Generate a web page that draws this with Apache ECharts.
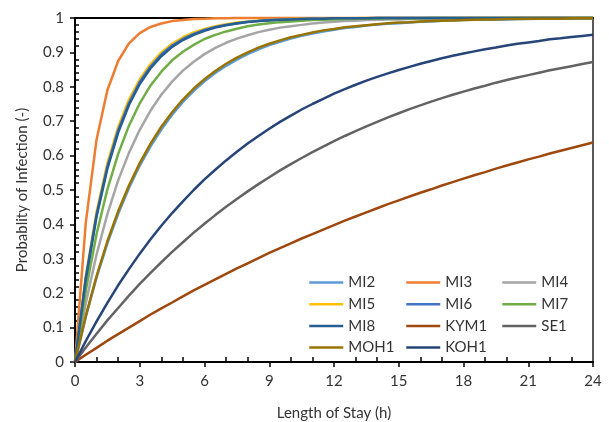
<!DOCTYPE html>
<html>
<head>
<meta charset="utf-8">
<script src="https://cdn.jsdelivr.net/npm/echarts@6/dist/echarts.min.js"></script>
<style>
  html, body { margin: 0; padding: 0; background: #fff; }
  #chart { width: 609px; height: 422px; }
</style>
</head>
<body>
<div id="chart"></div>
<script>
// Length of stay (h), half-hour steps
const hours = [0,0.5,1,1.5,2,2.5,3,3.5,4,4.5,5,5.5,6,6.5,7,7.5,8,8.5,9,9.5,10,10.5,11,11.5,12,
  12.5,13,13.5,14,14.5,15,15.5,16,16.5,17,17.5,18,18.5,19,19.5,20,20.5,21,21.5,22,22.5,23,23.5,24];

// Probability of infection for each scenario
const MI2 = [0,.131,.246,.345,.431,.506,.571,.627,.676,.719,.756,.788,.816,.840,.861,.879,.895,.909,.921,.931,.940,.948,.955,.961,.966,
  .971,.974,.978,.981,.983,.985,.987,.989,.990,.992,.993,.994,.995,.995,.996,.996,.997,.997,.998,.998,.998,.998,.999,.999];
const MI3 = [0,.405,.647,.790,.875,.926,.956,.974,.984,.991,.994,.997,.998,.999,.999,1,1,1,1,1,1,1,1,1,1,
  1,1,1,1,1,1,1,1,1,1,1,1,1,1,1,1,1,1,1,1,1,1,1,1];
const MI4 = [0,.171,.313,.430,.528,.608,.675,.731,.777,.815,.847,.873,.895,.913,.928,.940,.950,.959,.966,.972,.976,.980,.984,.987,.989,
  .991,.992,.994,.995,.996,.996,.997,.998,.998,.998,.999,.999,.999,.999,.999,.999,1,1,1,1,1,1,1,1];
const MI5 = [0,.250,.437,.578,.683,.763,.822,.866,.900,.925,.944,.958,.968,.976,.982,.987,.990,.992,.994,.996,.997,.998,.998,.999,.999,
  .999,.999,1,1,1,1,1,1,1,1,1,1,1,1,1,1,1,1,1,1,1,1,1,1];
const MI6 = [0,.244,.429,.568,.674,.753,.814,.859,.894,.920,.939,.954,.965,.974,.980,.985,.989,.991,.994,.995,.996,.997,.998,.998,.999,
  .999,.999,.999,1,1,1,1,1,1,1,1,1,1,1,1,1,1,1,1,1,1,1,1,1];
const MI7 = [0,.207,.372,.502,.605,.687,.752,.804,.844,.877,.902,.922,.939,.951,.961,.969,.976,.981,.985,.988,.990,.992,.994,.995,.996,
  .997,.998,.998,.998,.999,.999,.999,.999,1,1,1,1,1,1,1,1,1,1,1,1,1,1,1,1];
const MI8 = [0,.240,.423,.562,.667,.747,.808,.854,.889,.916,.936,.951,.963,.972,.979,.984,.988,.991,.993,.995,.996,.997,.998,.998,.999,
  .999,.999,.999,1,1,1,1,1,1,1,1,1,1,1,1,1,1,1,1,1,1,1,1,1];
const KYM1 = [0,.021,.041,.062,.081,.100,.119,.138,.156,.173,.191,.208,.224,.240,.256,.272,.287,.302,.317,.331,.345,.359,.372,.385,.398,
  .411,.423,.435,.447,.459,.470,.481,.492,.502,.513,.523,.533,.543,.552,.562,.571,.580,.589,.597,.606,.614,.622,.630,.638];
const SE1 = [0,.042,.082,.121,.157,.193,.227,.259,.290,.320,.348,.376,.402,.427,.451,.474,.496,.517,.537,.557,.575,.593,.610,.626,.642,
  .657,.671,.685,.698,.711,.723,.735,.746,.757,.767,.777,.786,.795,.803,.812,.820,.827,.834,.841,.848,.854,.860,.866,.872];
const MOH1 = [0,.134,.250,.351,.438,.513,.578,.635,.684,.726,.763,.795,.822,.846,.867,.885,.900,.914,.925,.935,.944,.951,.958,.964,.968,
  .973,.976,.979,.982,.985,.987,.988,.990,.991,.992,.993,.994,.995,.996,.996,.997,.997,.998,.998,.998,.998,.999,.999,.999];
const KOH1 = [0,.061,.118,.172,.223,.270,.315,.357,.396,.433,.467,.500,.531,.559,.586,.611,.635,.657,.678,.698,.716,.734,.750,.765,.780,
  .793,.806,.818,.829,.839,.849,.858,.867,.875,.883,.890,.897,.903,.909,.914,.920,.925,.929,.933,.938,.941,.945,.948,.951];

const seriesNames = ['MI2','MI3','MI4','MI5','MI6','MI7','MI8','KYM1','SE1','MOH1','KOH1'];
const seriesValues = [MI2, MI3, MI4, MI5, MI6, MI7, MI8, KYM1, SE1, MOH1, KOH1];
const seriesColors = ['#5B9BD5','#ED7D31','#A5A5A5','#FFC000','#4472C4','#70AD47',
  '#255E91','#9E480E','#636363','#997300','#264478'];

// legend columns, read row by row
const legendColumns = [
  ['MI2','MI5','MI8','MOH1'],
  ['MI3','MI6','KYM1','KOH1'],
  ['MI4','MI7','SE1']
];
const legendLefts = [308, 405, 501];

const FONT = 'Lato, "Open Sans", sans-serif';
const TEXT = '#333333';

const chart = echarts.init(document.getElementById('chart'), null, { renderer: 'canvas' });

const series = seriesNames.map((name, i) => ({
  name,
  type: 'line',
  data: hours.map((h, j) => [h, seriesValues[i][j]]),
  symbol: 'none',
  clip: false,
  lineStyle: { width: 2.5, color: seriesColors[i] },
  itemStyle: { color: seriesColors[i] },
  emphasis: { disabled: true },
  animation: false
}));

// line-only legend keys: the marker part of each key is made transparent
const legends = legendColumns.map((col, c) => ({
  data: col,
  orient: 'vertical',
  left: legendLefts[c],
  top: 275,
  itemWidth: 34,
  itemHeight: 14,
  itemGap: 6.7,
  padding: 0,
  selectedMode: false,
  itemStyle: { opacity: 0 },
  lineStyle: { width: 2.5 },
  textStyle: { fontFamily: FONT, fontSize: 15, color: TEXT }
}));

chart.setOption({
  backgroundColor: '#ffffff',
  animation: false,
  grid: { left: 75, right: 16, top: 18, bottom: 60, containLabel: false, outerBoundsMode: 'none' },
  legend: legends,
  xAxis: [{
    type: 'value', min: 0, max: 24, interval: 3,
    name: 'Length of Stay (h)', nameLocation: 'middle', nameGap: 44,
    nameTextStyle: { fontFamily: FONT, fontSize: 15, color: TEXT },
    axisLine: { show: true, onZero: false, lineStyle: { color: '#000', width: 2 } },
    axisTick: { show: true, length: 5, lineStyle: { color: '#000', width: 1.5 } },
    minorTick: { show: true, splitNumber: 3, length: -5, lineStyle: { color: '#000', width: 1.5 } },
    axisLabel: { margin: 12, fontFamily: FONT, fontSize: 15, color: TEXT },
    splitLine: { show: false }, minorSplitLine: { show: false }
  }, {
    type: 'value', min: 0, max: 24, position: 'top',
    axisLine: { show: true, onZero: false, lineStyle: { color: '#000', width: 2 } },
    axisTick: { show: false }, axisLabel: { show: false }, splitLine: { show: false }
  }],
  yAxis: [{
    type: 'value', min: 0, max: 1, interval: 0.1,
    name: 'Probablity of Infection (-)', nameLocation: 'middle', nameGap: 45,
    nameTextStyle: { fontFamily: FONT, fontSize: 15, color: TEXT },
    axisLine: { show: true, onZero: false, lineStyle: { color: '#000', width: 2 } },
    axisTick: { show: true, length: 5, lineStyle: { color: '#000', width: 1.5 } },
    minorTick: { show: true, splitNumber: 5, length: -4, lineStyle: { color: '#000', width: 1.5 } },
    axisLabel: { margin: 11, fontFamily: FONT, fontSize: 15, color: TEXT },
    splitLine: { show: false }, minorSplitLine: { show: false }
  }, {
    type: 'value', min: 0, max: 1, position: 'right',
    axisLine: { show: true, onZero: false, lineStyle: { color: '#595959', width: 2 } },
    axisTick: { show: false }, axisLabel: { show: false }, splitLine: { show: false }
  }],
  series
});
</script>
</body>
</html>
